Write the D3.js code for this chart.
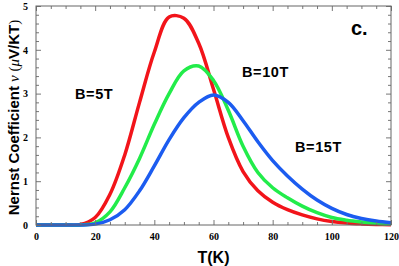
<!DOCTYPE html>
<html>
<head>
<meta charset="utf-8">
<script src="https://cdn.jsdelivr.net/npm/d3@7"></script>
<style>
  body { margin: 0; background: #fff; }
  text.tick-label { font-family: "Liberation Serif", "Times New Roman", serif; font-weight: bold; font-size: 10px; }
  text.lbl { font-family: "Liberation Sans", Arial, sans-serif; font-weight: bold; }
</style>
</head>
<body>
<div id="chart"></div>
<script>
// temperatures (K) where the curves were read
const temps = [0, 5, 10, 15, 20, 25, 30, 35, 40, 45, 50, 55, 60, 65, 70, 75, 80, 85, 90, 95, 100, 105, 110, 115, 120];

const nernst5T = [0, 0, 0, 0.01, 0.17, 0.7, 1.6, 2.8, 3.95, 4.75, 4.72, 4.15, 3.1, 2.0, 1.22, 0.78, 0.52, 0.35, 0.23, 0.14, 0.08, 0.045, 0.025, 0.012, 0.005];
const nernst10T = [0, 0, 0, 0, 0.05, 0.3, 0.85, 1.52, 2.3, 3.0, 3.52, 3.63, 3.3, 2.62, 1.8, 1.2, 0.85, 0.62, 0.43, 0.28, 0.17, 0.11, 0.07, 0.04, 0.02];
const nernst15T = [0, 0, 0, 0, 0.02, 0.12, 0.35, 0.78, 1.35, 1.95, 2.45, 2.8, 2.97, 2.8, 2.38, 1.9, 1.47, 1.12, 0.82, 0.57, 0.38, 0.24, 0.15, 0.09, 0.05];

const seriesList = [
    { name: "B=5T", values: nernst5T, color: "#f2141a" },
    { name: "B=10T", values: nernst10T, color: "#22ec4a" },
    { name: "B=15T", values: nernst15T, color: "#1c5cf0" }
];

const xTicks = [0, 20, 40, 60, 80, 100, 120];
const yTicks = [0, 1, 2, 3, 4, 5];

const width = 399, height = 266;
const margin = { top: 6, right: 8, bottom: 41, left: 36 };
const chartWidth = width - margin.left - margin.right;
const chartHeight = height - margin.top - margin.bottom;

const svg = d3.select("#chart").append("svg")
    .attr("width", width)
    .attr("height", height);

const chart = svg.append("g")
    .attr("transform", `translate(${margin.left}, ${margin.top})`);

const x = d3.scaleLinear().domain([0, 120]).range([0, chartWidth]);
const y = d3.scaleLinear().domain([0, 5]).range([chartHeight, 0]);

// curves
const line = d3.line()
    .x(d => x(d[0]))
    .y(d => y(d[1]))
    .curve(d3.curveCatmullRom.alpha(0.5));

seriesList.forEach(s => {
    chart.append("path")
        .datum(temps.map((t, i) => [t, s.values[i]]))
        .attr("fill", "none")
        .attr("stroke", s.color)
        .attr("stroke-width", 3.5)
        .attr("stroke-linejoin", "round")
        .attr("d", line);
});

// frame with ticks on every side, pointing inward
const tickColor = "#777";
const minorX = d3.range(0, 121, 5).filter(v => v % 20 !== 0);
const minorY = d3.range(0, 5.01, 0.2).map(v => +v.toFixed(1)).filter(v => v % 1 !== 0);

function addTicks(axis, translate) {
    const g = chart.append("g").attr("transform", translate).call(axis);
    g.selectAll("line").attr("stroke", tickColor);
    g.select(".domain").remove();
    return g;
}

const bottomAxis = addTicks(
    d3.axisBottom(x).tickValues(xTicks).tickSize(-5).tickPadding(8).tickFormat(d3.format("d")),
    `translate(0, ${chartHeight})`);
bottomAxis.selectAll("text").attr("class", "tick-label").attr("fill", "#000");
addTicks(d3.axisBottom(x).tickValues(minorX).tickSize(-3).tickFormat(""), `translate(0, ${chartHeight})`);
addTicks(d3.axisTop(x).tickValues(xTicks).tickSize(-5).tickFormat(""), "translate(0,0)");
addTicks(d3.axisTop(x).tickValues(minorX).tickSize(-3).tickFormat(""), "translate(0,0)");

const leftAxis = addTicks(
    d3.axisLeft(y).tickValues(yTicks).tickSize(-5).tickPadding(8).tickFormat(d3.format("d")),
    "translate(0,0)");
leftAxis.selectAll("text").attr("class", "tick-label").attr("fill", "#000");
addTicks(d3.axisLeft(y).tickValues(minorY).tickSize(-3).tickFormat(""), "translate(0,0)");
addTicks(d3.axisRight(y).tickValues(yTicks).tickSize(-5).tickFormat(""), `translate(${chartWidth},0)`);
addTicks(d3.axisRight(y).tickValues(minorY).tickSize(-3).tickFormat(""), `translate(${chartWidth},0)`);

chart.append("rect")
    .attr("width", chartWidth)
    .attr("height", chartHeight)
    .attr("fill", "none")
    .attr("stroke", "#666")
    .attr("stroke-width", 1);

// axis titles
svg.append("text")
    .attr("class", "lbl")
    .attr("x", margin.left + chartWidth / 2)
    .attr("y", 263)
    .attr("text-anchor", "middle")
    .attr("font-size", 16)
    .text("T(K)");

const yTitle = svg.append("text")
    .attr("class", "lbl")
    .attr("transform", `translate(19, ${margin.top + chartHeight / 2 + 2}) rotate(-90)`)
    .attr("text-anchor", "middle")
    .attr("font-size", 15);
yTitle.append("tspan").text("Nernst Coefficient ");
yTitle.append("tspan").attr("font-family", "Liberation Serif, serif").attr("font-style", "italic").attr("font-weight", "normal").text("ν");
yTitle.append("tspan").attr("font-family", "Liberation Serif, serif").attr("font-weight", "normal").text(" (");
yTitle.append("tspan").attr("font-family", "Liberation Serif, serif").attr("font-style", "italic").attr("font-weight", "normal").text("μ");
yTitle.append("tspan").text("V/KT");
yTitle.append("tspan").attr("font-family", "Liberation Serif, serif").attr("font-weight", "normal").text(")");

// series labels
const labelPos = [
    { x: 75, y: 99 },
    { x: 242, y: 77 },
    { x: 295, y: 152 }
];
seriesList.forEach((s, i) => {
    svg.append("text")
        .attr("class", "lbl")
        .attr("x", labelPos[i].x)
        .attr("y", labelPos[i].y)
        .attr("font-size", 14.5)
        .attr("letter-spacing", 0.6)
        .text(s.name);
});

svg.append("text")
    .attr("class", "lbl")
    .attr("x", 351)
    .attr("y", 35)
    .attr("font-size", 20)
    .text("c.");
</script>
</body>
</html>
